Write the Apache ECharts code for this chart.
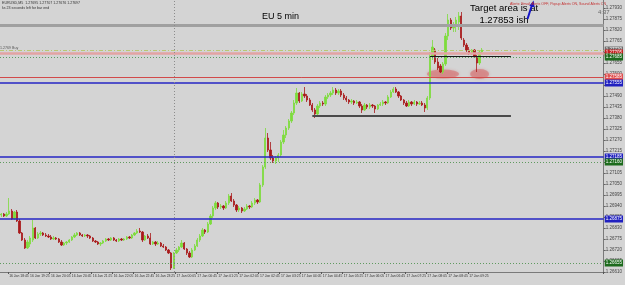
<!DOCTYPE html>
<html><head><meta charset="utf-8">
<script src="https://cdn.jsdelivr.net/npm/echarts@6/dist/echarts.min.js"></script>
<style>html,body{margin:0;padding:0;background:#d4d4d4;overflow:hidden}#c{width:625px;height:285px}</style>
</head><body><div id="c"></div><script>
// ---- data ----
const startTime = { day: 16, hour: 18, minute: 30 };
const barMinutes = 5;
const totalSlots = 231;               // bars + empty space to the right
const labelEvery = 8, labelFirst = 3; // time labels every 40 minutes
// [open, close, low, high]
const ohlc = [
[1.26895,1.26900,1.26885,1.26905],[1.26900,1.26890,1.26885,1.26905],[1.26890,1.26900,1.26885,1.26910],[1.26900,1.26915,1.26895,1.26980],
[1.26915,1.26875,1.26870,1.26925],[1.26875,1.26910,1.26870,1.26915],[1.26910,1.26865,1.26860,1.26920],[1.26865,1.26805,1.26800,1.26875],
[1.26805,1.26770,1.26765,1.26810],[1.26770,1.26730,1.26725,1.26780],[1.26730,1.26760,1.26725,1.26770],[1.26750,1.26780,1.26735,1.26790],
[1.26770,1.26830,1.26760,1.26870],[1.26830,1.26780,1.26775,1.26835],[1.26780,1.26800,1.26775,1.26810],[1.26800,1.26805,1.26790,1.26815],
[1.26805,1.26795,1.26790,1.26810],[1.26795,1.26790,1.26785,1.26805],[1.26790,1.26785,1.26780,1.26800],[1.26785,1.26775,1.26770,1.26795],
[1.26775,1.26780,1.26770,1.26790],[1.26780,1.26775,1.26770,1.26785],[1.26775,1.26760,1.26755,1.26780],[1.26760,1.26745,1.26740,1.26770],
[1.26745,1.26755,1.26740,1.26760],[1.26755,1.26760,1.26745,1.26765],[1.26760,1.26770,1.26755,1.26775],[1.26770,1.26785,1.26765,1.26790],
[1.26785,1.26795,1.26780,1.26805],[1.26795,1.26805,1.26790,1.26810],[1.26805,1.26795,1.26790,1.26810],[1.26795,1.26790,1.26785,1.26800],
[1.26790,1.26795,1.26785,1.26800],[1.26795,1.26790,1.26780,1.26800],[1.26790,1.26780,1.26775,1.26795],[1.26780,1.26765,1.26760,1.26785],
[1.26765,1.26760,1.26755,1.26770],[1.26760,1.26750,1.26745,1.26765],[1.26750,1.26755,1.26740,1.26760],[1.26755,1.26765,1.26750,1.26770],
[1.26765,1.26775,1.26760,1.26780],[1.26775,1.26770,1.26765,1.26780],[1.26770,1.26780,1.26765,1.26785],[1.26780,1.26770,1.26765,1.26785],
[1.26770,1.26765,1.26760,1.26775],[1.26765,1.26775,1.26760,1.26780],[1.26775,1.26770,1.26765,1.26780],[1.26770,1.26775,1.26765,1.26780],
[1.26775,1.26785,1.26770,1.26790],[1.26785,1.26780,1.26775,1.26790],[1.26780,1.26795,1.26775,1.26800],[1.26795,1.26805,1.26790,1.26810],
[1.26805,1.26815,1.26800,1.26825],[1.26815,1.26810,1.26805,1.26830],[1.26810,1.26770,1.26760,1.26815],[1.26770,1.26790,1.26765,1.26795],
[1.26790,1.26780,1.26775,1.26800],[1.26780,1.26750,1.26745,1.26805],[1.26750,1.26760,1.26745,1.26765],[1.26760,1.26750,1.26740,1.26765],
[1.26750,1.26755,1.26745,1.26765],[1.26755,1.26740,1.26735,1.26760],[1.26740,1.26735,1.26730,1.26750],[1.26735,1.26720,1.26715,1.26740],
[1.26720,1.26705,1.26700,1.26725],[1.26705,1.26630,1.26620,1.26710],[1.26630,1.26705,1.26625,1.26710],[1.26705,1.26720,1.26700,1.26730],
[1.26720,1.26735,1.26710,1.26740],[1.26735,1.26755,1.26730,1.26770],[1.26755,1.26725,1.26720,1.26760],[1.26725,1.26705,1.26695,1.26730],
[1.26705,1.26685,1.26680,1.26715],[1.26685,1.26720,1.26680,1.26730],[1.26720,1.26740,1.26715,1.26750],[1.26740,1.26770,1.26735,1.26780],
[1.26770,1.26790,1.26760,1.26800],[1.26790,1.26820,1.26785,1.26830],[1.26820,1.26810,1.26800,1.26825],[1.26810,1.26850,1.26805,1.26860],
[1.26850,1.26890,1.26845,1.26900],[1.26890,1.26930,1.26880,1.26940],[1.26930,1.26955,1.26920,1.26965],[1.26955,1.26935,1.26925,1.26960],
[1.26935,1.26940,1.26925,1.26950],[1.26940,1.26930,1.26920,1.26945],[1.26930,1.26955,1.26925,1.26965],[1.26955,1.26990,1.26945,1.27000],
[1.26990,1.26965,1.26960,1.27005],[1.26965,1.26945,1.26935,1.26975],[1.26945,1.26920,1.26910,1.26950],[1.26920,1.26930,1.26910,1.26940],
[1.26930,1.26915,1.26905,1.26935],[1.26915,1.26925,1.26910,1.26935],[1.26925,1.26940,1.26920,1.26950],[1.26940,1.26935,1.26925,1.26945],
[1.26935,1.26955,1.26930,1.26965],[1.26955,1.26970,1.26945,1.26980],[1.26970,1.26960,1.26950,1.26975],[1.26960,1.27045,1.26955,1.27055],
[1.27045,1.27135,1.27035,1.27145],[1.27135,1.27280,1.27125,1.27330],[1.27280,1.27220,1.27210,1.27305],[1.27220,1.27180,1.27170,1.27260],
[1.27180,1.27165,1.27155,1.27195],[1.27165,1.27180,1.27150,1.27190],[1.27180,1.27195,1.27160,1.27205],[1.27195,1.27260,1.27185,1.27270],
[1.27260,1.27295,1.27250,1.27320],[1.27295,1.27330,1.27280,1.27340],[1.27330,1.27365,1.27320,1.27375],[1.27365,1.27405,1.27355,1.27415],
[1.27405,1.27455,1.27395,1.27470],[1.27455,1.27505,1.27445,1.27530],[1.27505,1.27465,1.27455,1.27510],[1.27465,1.27500,1.27460,1.27510],
[1.27500,1.27490,1.27480,1.27535],[1.27490,1.27470,1.27460,1.27500],[1.27470,1.27445,1.27440,1.27480],[1.27445,1.27420,1.27410,1.27455],
[1.27420,1.27400,1.27380,1.27430],[1.27400,1.27440,1.27395,1.27450],[1.27440,1.27455,1.27430,1.27465],[1.27455,1.27450,1.27440,1.27465],
[1.27450,1.27485,1.27440,1.27495],[1.27485,1.27495,1.27475,1.27505],[1.27495,1.27505,1.27485,1.27515],[1.27505,1.27520,1.27495,1.27535],
[1.27520,1.27505,1.27495,1.27530],[1.27505,1.27515,1.27495,1.27525],[1.27515,1.27495,1.27485,1.27525],[1.27495,1.27480,1.27470,1.27505],
[1.27480,1.27470,1.27460,1.27490],[1.27470,1.27460,1.27450,1.27475],[1.27460,1.27465,1.27450,1.27475],[1.27465,1.27455,1.27445,1.27470],
[1.27455,1.27460,1.27450,1.27470],[1.27460,1.27440,1.27430,1.27465],[1.27440,1.27420,1.27405,1.27450],[1.27420,1.27445,1.27415,1.27455],
[1.27445,1.27435,1.27425,1.27450],[1.27435,1.27445,1.27425,1.27455],[1.27445,1.27440,1.27430,1.27450],[1.27440,1.27425,1.27405,1.27445],
[1.27425,1.27445,1.27420,1.27450],[1.27445,1.27450,1.27440,1.27460],[1.27450,1.27460,1.27440,1.27470],[1.27460,1.27455,1.27445,1.27465],
[1.27455,1.27485,1.27450,1.27495],[1.27485,1.27510,1.27480,1.27520],[1.27510,1.27525,1.27505,1.27535],[1.27525,1.27510,1.27505,1.27535],
[1.27510,1.27490,1.27480,1.27515],[1.27490,1.27470,1.27465,1.27495],[1.27470,1.27455,1.27445,1.27475],[1.27455,1.27440,1.27435,1.27465],
[1.27440,1.27460,1.27435,1.27470],[1.27460,1.27450,1.27440,1.27465],[1.27450,1.27460,1.27445,1.27470],[1.27460,1.27450,1.27440,1.27465],
[1.27450,1.27455,1.27445,1.27465],[1.27455,1.27445,1.27440,1.27465],[1.27445,1.27430,1.27410,1.27455],[1.27430,1.27480,1.27420,1.27490],
[1.27480,1.27690,1.27470,1.27710],[1.27690,1.27735,1.27670,1.27770],[1.27720,1.27660,1.27650,1.27730],[1.27660,1.27630,1.27620,1.27680],
[1.27640,1.27610,1.27605,1.27650],[1.27610,1.27650,1.27600,1.27660],[1.27650,1.27790,1.27640,1.27805],[1.27790,1.27870,1.27770,1.27900],
[1.27870,1.27830,1.27820,1.27880],[1.27830,1.27845,1.27810,1.27860],[1.27845,1.27870,1.27810,1.27885],[1.27860,1.27890,1.27820,1.27910],
[1.27890,1.27780,1.27770,1.27910],[1.27770,1.27745,1.27735,1.27780],[1.27745,1.27720,1.27710,1.27755],[1.27720,1.27705,1.27695,1.27735],
[1.27705,1.27720,1.27695,1.27725],[1.27720,1.27685,1.27680,1.27725],[1.27685,1.27655,1.27610,1.27695],[1.27655,1.27710,1.27645,1.27720],
[1.27710,1.27720,1.27705,1.27730]
];
// horizontal price levels
const bandLevel = 1.27843;
const levelPrices = [1.27720, 1.27705, 1.27685, 1.27585, 1.27555, 1.27185, 1.27160, 1.26875, 1.26655];
// support segments: price, first bar, last bar
const segPrices = [1.27690, 1.27390];
const segStart = [164, 119];
const segEnd = [195, 195];
// highlighted zones (bar index, price)
const zoneBars = [169, 183];
const zonePrices = [1.27600, 1.27600];
const dayBreak = '17 Jan 00:00';
const yMin = 1.26610, yMax = 1.27970, yStep = 0.00055;

// ---- build ----
const times = [];
for (let i = 0; i < totalSlots; i++) {
  const m = startTime.hour * 60 + startTime.minute + i * barMinutes;
  const d = startTime.day + Math.floor(m / 1440);
  const mm = m % 1440;
  times.push(d + ' Jan ' + String(Math.floor(mm / 60)).padStart(2, '0') + ':' + String(mm % 60).padStart(2, '0'));
}
const showLabel = (idx) => idx < ohlc.length && idx >= labelFirst && (idx - labelFirst) % labelEvery === 0;
const FONT = 'Liberation Sans, Arial, sans-serif';

const levelStyles = [
  { color: '#b9c772', type: [4, 2, 1, 2], width: 1, bg: '#6e6e6e' },
  { color: '#e3a3a3', type: 'solid', width: 2.5, bg: '#c42020' },
  { color: '#5f9a5f', type: [1, 2], width: 1, bg: '#1d6b1d' },
  { color: '#d24a4a', type: 'solid', width: 1, bg: '#e05050' },
  { color: '#2626c4', type: 'solid', width: 1.6, bg: '#2020c0' },
  { color: '#2626c4', type: 'solid', width: 1.6, bg: '#2020c0' },
  { color: '#5f9a5f', type: [1, 2], width: 1, bg: '#1d6b1d' },
  { color: '#2626c4', type: 'solid', width: 1.6, bg: '#2020c0' },
  { color: '#5f9a5f', type: [1, 2], width: 1, bg: '#1d6b1d' }
];
const segStyles = [{ color: '#1a1a1a', width: 1 }, { color: '#4a4a4a', width: 2 }];
const zoneSizes = [[32, 9], [19, 10]];

const markData = [];
markData.push({ yAxis: bandLevel, lineStyle: { color: '#a0a0a0', width: 3, type: 'solid' }, label: { show: false } });
levelPrices.forEach((p, i) => {
  const s = levelStyles[i];
  markData.push({
    yAxis: p,
    lineStyle: { color: s.color, width: s.width, type: s.type },
    label: { show: true, position: 'end', distance: 1, formatter: p.toFixed(5), backgroundColor: s.bg,
             color: '#fff', fontSize: 4.5, padding: [1, 1], fontFamily: FONT }
  });
});
segPrices.forEach((p, i) => {
  markData.push([
    { coord: [segStart[i], p], lineStyle: { color: segStyles[i].color, width: segStyles[i].width, type: 'solid' }, label: { show: false } },
    { coord: [segEnd[i], p] }
  ]);
});
markData.push({ xAxis: dayBreak, lineStyle: { color: '#8c8c8c', width: 1, type: [1, 2] }, label: { show: false } });

const chart = echarts.init(document.getElementById('c'), null, { renderer: 'canvas' });
chart.setOption({
  animation: false,
  backgroundColor: '#d4d4d4',
  textStyle: { fontFamily: FONT },
  grid: { left: 0, right: 13, top: 0, bottom: 13, containLabel: false },
  xAxis: {
    type: 'category', data: times, boundaryGap: true,
    axisLine: { show: true, lineStyle: { color: '#7a7a7a', width: 1 } },
    axisTick: { show: true, interval: (i) => showLabel(i), length: 2, lineStyle: { color: '#555' } },
    axisLabel: { show: true, interval: (i) => showLabel(i), fontSize: 3.4, color: '#333', align: 'left', margin: 3 },
    splitLine: { show: false }
  },
  yAxis: {
    type: 'value', position: 'right', min: yMin, max: yMax, interval: yStep, scale: true,
    axisLine: { show: true, lineStyle: { color: '#7a7a7a', width: 1 } },
    axisTick: { show: true, length: 2, lineStyle: { color: '#666' } },
    axisLabel: { show: true, fontSize: 4.5, color: '#444', margin: 2, showMaxLabel: false, showMinLabel: true,
                 formatter: (v) => v.toFixed(5) },
    splitLine: { show: false }
  },
  series: [
    {
      type: 'scatter', z: 1, silent: true,
      data: zoneBars.map((b, i) => ({ value: [b, zonePrices[i]], symbolSize: zoneSizes[i] })),
      symbol: 'circle',
      itemStyle: { color: 'rgba(214,88,88,0.55)', shadowBlur: 3, shadowColor: 'rgba(214,88,88,0.7)' },
      markLine: { silent: true, symbol: ['none', 'none'], animation: false, precision: 5, data: markData }
    },
    {
      type: 'candlestick', z: 3, data: ohlc, barWidth: 1.8,
      itemStyle: { color: '#7ddc3c', color0: '#a8191b', borderColor: '#7ddc3c', borderColor0: '#a8191b', borderWidth: 0.8 }
    }
  ],
  graphic: [
    { type: 'text', left: 262, top: 12, style: { text: 'EU 5 min', fontSize: 9, fill: '#000', fontFamily: FONT } },
    { type: 'text', x: 504, y: 3, style: { text: 'Target area is at', fontSize: 9.5, fill: '#000', align: 'center', fontFamily: FONT } },
    { type: 'text', x: 504, y: 15, style: { text: '1.27853 ish', fontSize: 9.5, fill: '#000', align: 'center', fontFamily: FONT } },
    { type: 'line', shape: { x1: 527.5, y1: 19, x2: 532.3, y2: 4 }, style: { stroke: '#1616c8', lineWidth: 2 } },
    { type: 'polygon', shape: { points: [[533.6, 0.5], [529.3, 5.8], [534.6, 7.2]] }, style: { fill: '#1616c8' } },
    { type: 'text', x: 2, y: 1, style: { text: 'EURUSD,M5  1.27695 1.27707 1.27676 1.27697', fontSize: 3.6, fill: '#333', fontFamily: FONT } },
    { type: 'text', x: 2, y: 6, style: { text: 'ks 23 seconds left for bar end', fontSize: 3.6, fill: '#333', fontFamily: FONT } },
    { type: 'text', x: 0, y: 46, style: { text: '1.2769 Buy', fontSize: 3.6, fill: '#555', fontFamily: FONT } },
    { type: 'text', x: 510, y: 2, style: { text: 'Alerts: Email Alerts OFF, Popup Alerts ON, Sound Alerts ON', fontSize: 3.6, fill: '#c43030', fontFamily: FONT } },
    { type: 'text', x: 598, y: 9, style: { text: '4:37', fontSize: 6, fill: '#666', fontFamily: FONT } }
  ]
});
</script></body></html>
